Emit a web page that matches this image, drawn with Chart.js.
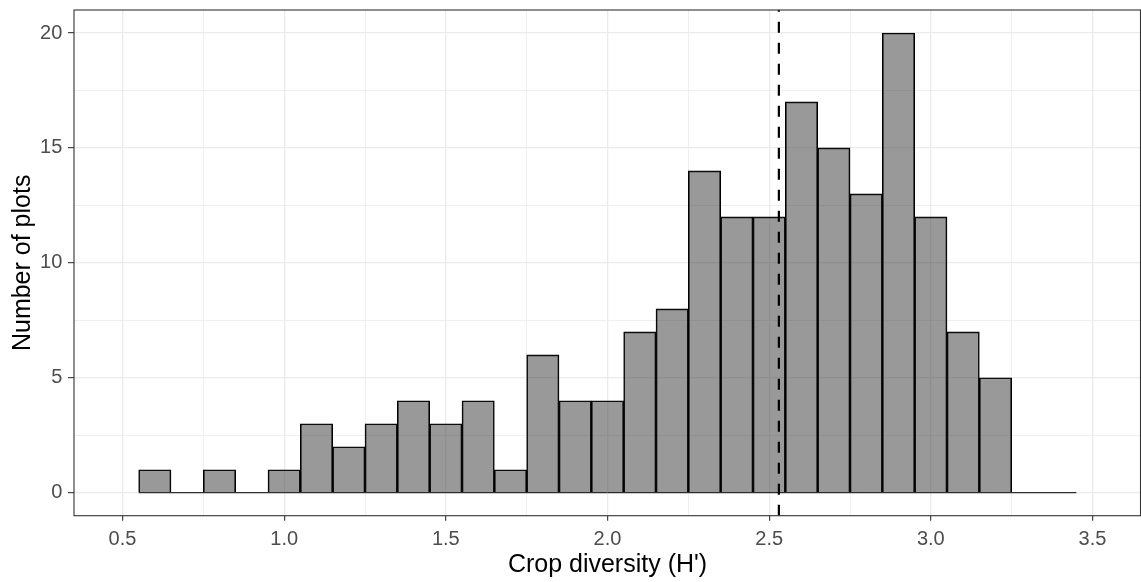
<!DOCTYPE html>
<html>
<head>
<meta charset="utf-8">
<title>Crop diversity histogram</title>
<script src="https://cdn.jsdelivr.net/npm/chart.js@4/dist/chart.umd.min.js"></script>
<style>
  html, body { margin: 0; padding: 0; background: #ffffff; }
  #wrap { width: 1141px; height: 582px; }
</style>
</head>
<body>
<div id="wrap"><canvas id="hist" width="1141" height="582"></canvas></div>
<script>
// Histogram bins of Shannon crop diversity (bin width 0.1)
const binCenters = [0.6, 0.7, 0.8, 0.9, 1.0, 1.1, 1.2, 1.3, 1.4, 1.5,
                    1.6, 1.7, 1.8, 1.9, 2.0, 2.1, 2.2, 2.3, 2.4, 2.5,
                    2.6, 2.7, 2.8, 2.9, 3.0, 3.1, 3.2, 3.3, 3.4];
const plotCounts = [1, 0, 1, 0, 1, 3, 2, 3, 4, 3,
                    4, 1, 6, 4, 4, 7, 8, 14, 12, 12,
                    17, 15, 13, 20, 12, 7, 5, 0, 0];
// Reference line (median H')
const medianH = 2.53;

// Axis breaks
const xTickValues = [0.5, 1.0, 1.5, 2.0, 2.5, 3.0, 3.5];
const yTickValues = [0, 5, 10, 15, 20];
const xLimits = [0.35, 3.65];
const yLimits = [-1, 21];

const xTitle = "Crop diversity (H')";
const yTitle = 'Number of plots';

// Major breaks plus minor breaks halfway between them
function withMinor(major) {
  const out = [];
  major.forEach((v, i) => {
    out.push({ value: v, major: true });
    if (i < major.length - 1) out.push({ value: (v + major[i + 1]) / 2, major: false });
  });
  return out;
}

// Outline along the count axis under every bin (empty bins show as a flat line)
const binWidth = binCenters[1] - binCenters[0];
const baseline = [
  { x: binCenters[0] - binWidth / 2, y: 0 },
  { x: binCenters[binCenters.length - 1] + binWidth / 2, y: 0 }
];

const FONT = "'Liberation Sans', Arial, Helvetica, sans-serif";
const GRID = '#ebebeb';
const INK = '#333333';

const panelBorder = {
  id: 'panelBorder',
  afterDraw(chart) {
    const { ctx, chartArea: a } = chart;
    ctx.save();
    ctx.strokeStyle = INK;
    ctx.lineWidth = 1.1;
    ctx.strokeRect(a.left, a.top, a.right - a.left - 0.5, a.bottom - a.top);
    ctx.restore();
  }
};

function noEdgePadding(scale) {
  scale.paddingTop = 0;
  scale.paddingBottom = 0;
  scale.paddingLeft = 0;
  scale.paddingRight = 0;
}

new Chart(document.getElementById('hist'), {
  type: 'bar',
  data: {
    datasets: [
      {
        type: 'bar',
        data: binCenters.map((c, i) => ({ x: c, y: plotCounts[i] })),
        backgroundColor: 'rgba(51,51,51,0.5)',
        borderColor: '#000000',
        borderWidth: 1.0,
        borderSkipped: 'start',
        barPercentage: 1.0,
        categoryPercentage: 1.0,
        order: 3
      },
      {
        type: 'line',
        data: baseline,
        borderColor: '#000000',
        borderWidth: 1.0,
        pointRadius: 0,
        order: 2
      },
      {
        type: 'line',
        data: [{ x: medianH, y: yLimits[0] }, { x: medianH, y: yLimits[1] }],
        borderColor: '#000000',
        borderWidth: 2.2,
        borderDash: [11, 10],
        pointRadius: 0,
        order: 1
      }
    ]
  },
  options: {
    responsive: false,
    devicePixelRatio: 1,
    animation: false,
    layout: { padding: { top: 10, right: 0, bottom: 0, left: 0 } },
    plugins: { legend: { display: false }, tooltip: { enabled: false } },
    scales: {
      x: {
        type: 'linear',
        min: xLimits[0],
        max: xLimits[1],
        offset: false,
        afterBuildTicks(scale) { scale.ticks = withMinor(xTickValues); },
        afterFit(scale) { scale.height = 66.3; noEdgePadding(scale); },
        border: { display: false },
        grid: {
          offset: false,
          color: GRID,
          lineWidth: (c) => (c.tick && c.tick.major ? 1.3 : 0.8),
          tickColor: (c) => (c.tick && c.tick.major ? INK : 'rgba(0,0,0,0)'),
          tickLength: 5,
          tickWidth: 1.1
        },
        ticks: {
          autoSkip: false,
          maxRotation: 0,
          padding: 6.3,
          color: '#4d4d4d',
          font: { family: FONT, size: 20 },
          callback: function (v, i, ticks) { return ticks[i].major ? Number(v).toFixed(1) : ''; }
        },
        title: {
          display: true,
          text: xTitle,
          color: '#000000',
          font: { family: FONT, size: 25 },
          padding: { top: 0, bottom: 2.2 }
        }
      },
      y: {
        type: 'linear',
        min: yLimits[0],
        max: yLimits[1],
        afterBuildTicks(scale) { scale.ticks = withMinor(yTickValues); },
        afterFit(scale) { scale.width = 74; noEdgePadding(scale); },
        border: { display: false },
        grid: {
          offset: false,
          color: GRID,
          lineWidth: (c) => (c.tick && c.tick.major ? 1.3 : 0.8),
          tickColor: (c) => (c.tick && c.tick.major ? INK : 'rgba(0,0,0,0)'),
          tickLength: 6,
          tickWidth: 1.1
        },
        ticks: {
          autoSkip: false,
          padding: 5.7,
          color: '#4d4d4d',
          font: { family: FONT, size: 20 },
          callback: function (v, i, ticks) { return ticks[i].major ? String(v) : ''; }
        },
        title: {
          display: true,
          text: yTitle,
          color: '#000000',
          font: { family: FONT, size: 25 },
          padding: { top: 8, bottom: 0 }
        }
      }
    }
  },
  plugins: [panelBorder]
});
</script>
</body>
</html>
